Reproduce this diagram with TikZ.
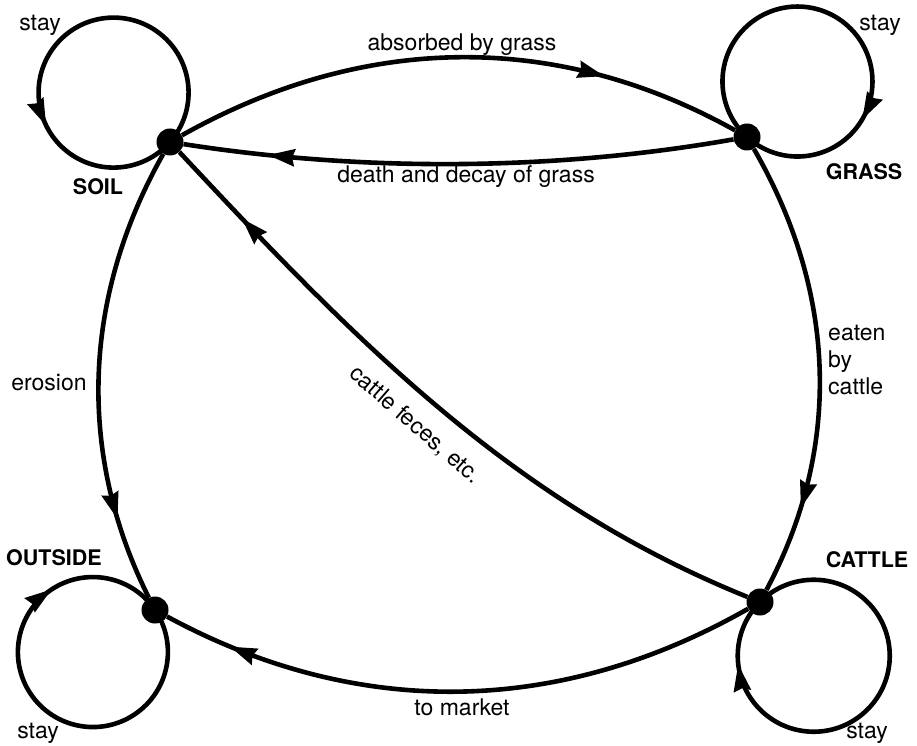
\documentclass[tikz,border=0pt]{standalone}
\usepackage{fontspec}
\setmainfont{TeX Gyre Heros}
\usetikzlibrary{decorations.markings}

\begin{document}
\begin{tikzpicture}[x=1pt,y=1pt,
  dot/.style={circle,fill=black,inner sep=0pt,minimum size=27pt},
  flow/.style={line width=4.6pt},
  % filled arrowhead placed along a path, tip at the given position
  midarrow/.style={postaction={decorate},
    decoration={markings,mark=at position #1 with {\fill (3pt,0pt) -- (-24pt,9pt) -- (-21pt,0pt) -- (-24pt,-9pt) -- cycle;}}},
  lbl/.style={font=\fontsize{23}{27}\selectfont,inner sep=0pt},
  statelbl/.style={font=\fontsize{21.5}{26}\selectfont\bfseries,inner sep=0pt}
]
\useasboundingbox (0,0) rectangle (917,745);

% states
\node[dot] (soil)    at (170,603) {};
\node[dot] (grass)   at (747,608) {};
\node[dot] (outside) at (155,135) {};
\node[dot] (cattle)  at (760,143) {};

% self loops
\draw[flow,midarrow=0.68]  (soil.center)    arc[start angle=-41.2,end angle=318.8,radius=75pt];
\draw[flow,midarrow=0.71]  (grass.center)   arc[start angle=227.7,end angle=-132.3,radius=75pt];
\draw[flow,midarrow=0.745] (outside.center) arc[start angle=34.1,end angle=-325.9,radius=75pt];
\draw[flow,midarrow=0.85]  (cattle.center)  arc[start angle=135,end angle=-225,radius=76pt];

% transitions
\draw[flow,midarrow=0.75] (soil)   .. controls (364,712) and (557,714) .. (grass);
\draw[flow,midarrow=0.84] (grass)  .. controls (554,574) and (362,573) .. (soil);
\draw[flow,midarrow=0.80] (grass)  .. controls (837,452) and (842,297) .. (cattle);
\draw[flow,midarrow=0.81] (soil)   .. controls (82,447) and (77,291) .. (outside);
\draw[flow,midarrow=0.88] (cattle) .. controls (558,28) and (356,26) .. (outside);
\draw[flow,midarrow=0.87] (cattle) .. controls (510,244) and (354,406) .. (soil);

% state names
\node[statelbl] (soilname)    at (98,558)  {SOIL};
\node[statelbl] (grassname)   at (864,573) {GRASS};
\node[statelbl] (outsidename) at (54,187)  {OUTSIDE};
\node[statelbl] (cattlename)  at (867,185) {CATTLE};

% loop labels
\node[lbl] (soilstay)    at (40,720)  {stay};
\node[lbl] (grassstay)   at (880,720) {stay};
\node[lbl] (outsidestay) at (38,12)   {stay};
\node[lbl] (cattlestay)  at (867,12)  {stay};

% transition labels
\node[lbl] (absorbed) at (462,700) {absorbed by grass};
\node[lbl] (decay)    at (466,568) {death and decay of grass};
\node[lbl,align=left,anchor=west] (eaten) at (828,385) {eaten\\by\\cattle};
\node[lbl] (erosion)  at (49,362)  {erosion};
\node[lbl] (market)   at (462,38)  {to market};
\node[lbl,rotate=-41] (feces) at (415,320) {cattle feces, etc.};
\end{tikzpicture}
\end{document}
